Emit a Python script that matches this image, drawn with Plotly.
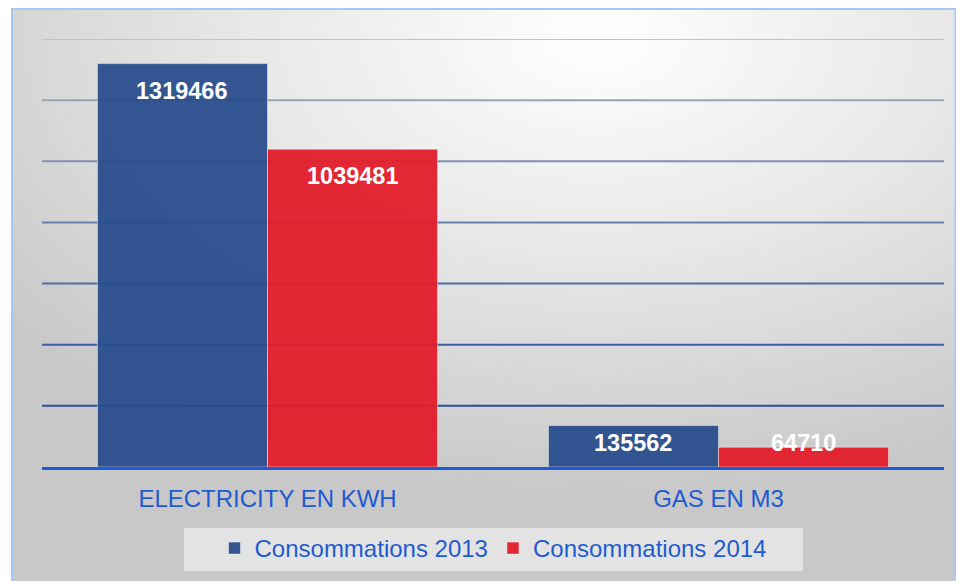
import base64
import plotly.graph_objects as go

# ---- data ----
categories = ["ELECTRICITY EN KWH", "GAS EN M3"]
series_names = ["Consommations 2013", "Consommations 2014"]
values_2013 = [1319466, 135562]
values_2014 = [1039481, 64710]
y_ticks = [0, 200000, 400000, 600000, 800000, 1000000, 1200000, 1400000]

# ---- styles ----
FONT = "Liberation Sans, Arial, sans-serif"
BLUE = "rgba(41,77,140,0.95)"
RED = "rgba(226,30,44,0.96)"
TEXT_BLUE = "#1F5BD0"
W, H = 956, 581
L, R, T, B = 42, 12, 39, 114
PW, PH = W - L - R, H - T - B
YMAX = y_ticks[-1]
BARGAP = 0.246

def px_x(px):
    return (px - L) / PW

def px_y(py):
    return (H - B - py) / PH

grid_colors = ["#c2c2c2", "#9aa3b2", "#8090ae", "#6a80ab", "#4f6da6", "#3a5ea1", "#234f9c"]

fig = go.Figure()
for name, vals, col in [(series_names[0], values_2013, BLUE), (series_names[1], values_2014, RED)]:
    fig.add_trace(go.Bar(
        x=categories, y=vals, name=name,
        marker=dict(color=col, line=dict(color="rgba(255,255,255,0.45)", width=1)),
    ))

# background gradient (chart area)
svg = ('<svg xmlns="http://www.w3.org/2000/svg" width="944" height="572" preserveAspectRatio="none">'
       '<defs><radialGradient id="g" cx="0.62" cy="0.05" r="0.8" fx="0.62" fy="0.05">'
       '<stop offset="0" stop-color="#ffffff"/><stop offset="0.5" stop-color="#e6e6e6"/>'
       '<stop offset="1" stop-color="#c8c8c8"/></radialGradient></defs>'
       '<rect width="944" height="572" fill="url(#g)"/></svg>')
uri = "data:image/svg+xml;base64," + base64.b64encode(svg.encode()).decode()
fig.add_layout_image(dict(source=uri, xref="paper", yref="paper",
                          x=px_x(12), y=px_y(9), sizex=(956 - 12) / PW, sizey=(581 - 9) / PH,
                          sizing="stretch", xanchor="left", yanchor="top", layer="below"))

shapes = []
# chart border
shapes.append(dict(type="rect", xref="paper", yref="paper", x0=px_x(12), x1=px_x(955.5),
                   y0=px_y(584), y1=px_y(9), line=dict(color="#a9c6f2", width=2), layer="below"))
# gridlines
for v, c in zip(y_ticks[1:], grid_colors[::-1]):
    shapes.append(dict(type="line", xref="paper", yref="y", x0=0, x1=1, y0=v, y1=v,
                       line=dict(color=c, width=2), layer="below"))
# legend background
shapes.append(dict(type="rect", xref="paper", yref="paper", x0=px_x(184), x1=px_x(803),
                   y0=px_y(571), y1=px_y(528), fillcolor="rgba(236,236,236,0.75)",
                   line=dict(width=0), layer="below"))

# value labels
annotations = []
half = (1 - BARGAP) / 4
px_per_unit = PH / YMAX
for si, vals in enumerate([values_2013, values_2014]):
    for ci, v in enumerate(vals):
        xpos = ci + (-half if si == 0 else half)
        center = max(v * px_per_unit - 27, 24)
        annotations.append(dict(x=xpos, y=0, xref="x", yref="y", text=f"{v}", showarrow=False,
                                yshift=center, yanchor="middle",
                                font=dict(family=FONT, size=23.5, color="white", weight="bold")))

fig.update_layout(
    width=W, height=H,
    margin=dict(l=L, r=R, t=T, b=B, autoexpand=False),
    paper_bgcolor="white",
    plot_bgcolor="rgba(0,0,0,0)",
    barmode="group", bargap=BARGAP, bargroupgap=0,
    font=dict(family=FONT, color=TEXT_BLUE),
    shapes=shapes, annotations=annotations,
    showlegend=True,
    legend=dict(orientation="h", x=0.5, xanchor="center", y=px_y(526), yanchor="top",
                bgcolor="rgba(0,0,0,0)", font=dict(family=FONT, size=24, color=TEXT_BLUE),
                itemclick=False),
    xaxis=dict(showgrid=False, showline=True, linecolor="#1F5ADB", linewidth=3,
               tickfont=dict(family=FONT, size=24, color=TEXT_BLUE), ticks="",
               ticklabelstandoff=8, fixedrange=True, automargin=False),
    yaxis=dict(range=[0, YMAX], tickvals=y_ticks, showticklabels=False, showgrid=False,
               zeroline=False, fixedrange=True, automargin=False),
)

fig.write_html("out.html", config={"displayModeBar": False},
               post_script="document.body.style.margin='0';document.body.style.overflow='hidden';")
